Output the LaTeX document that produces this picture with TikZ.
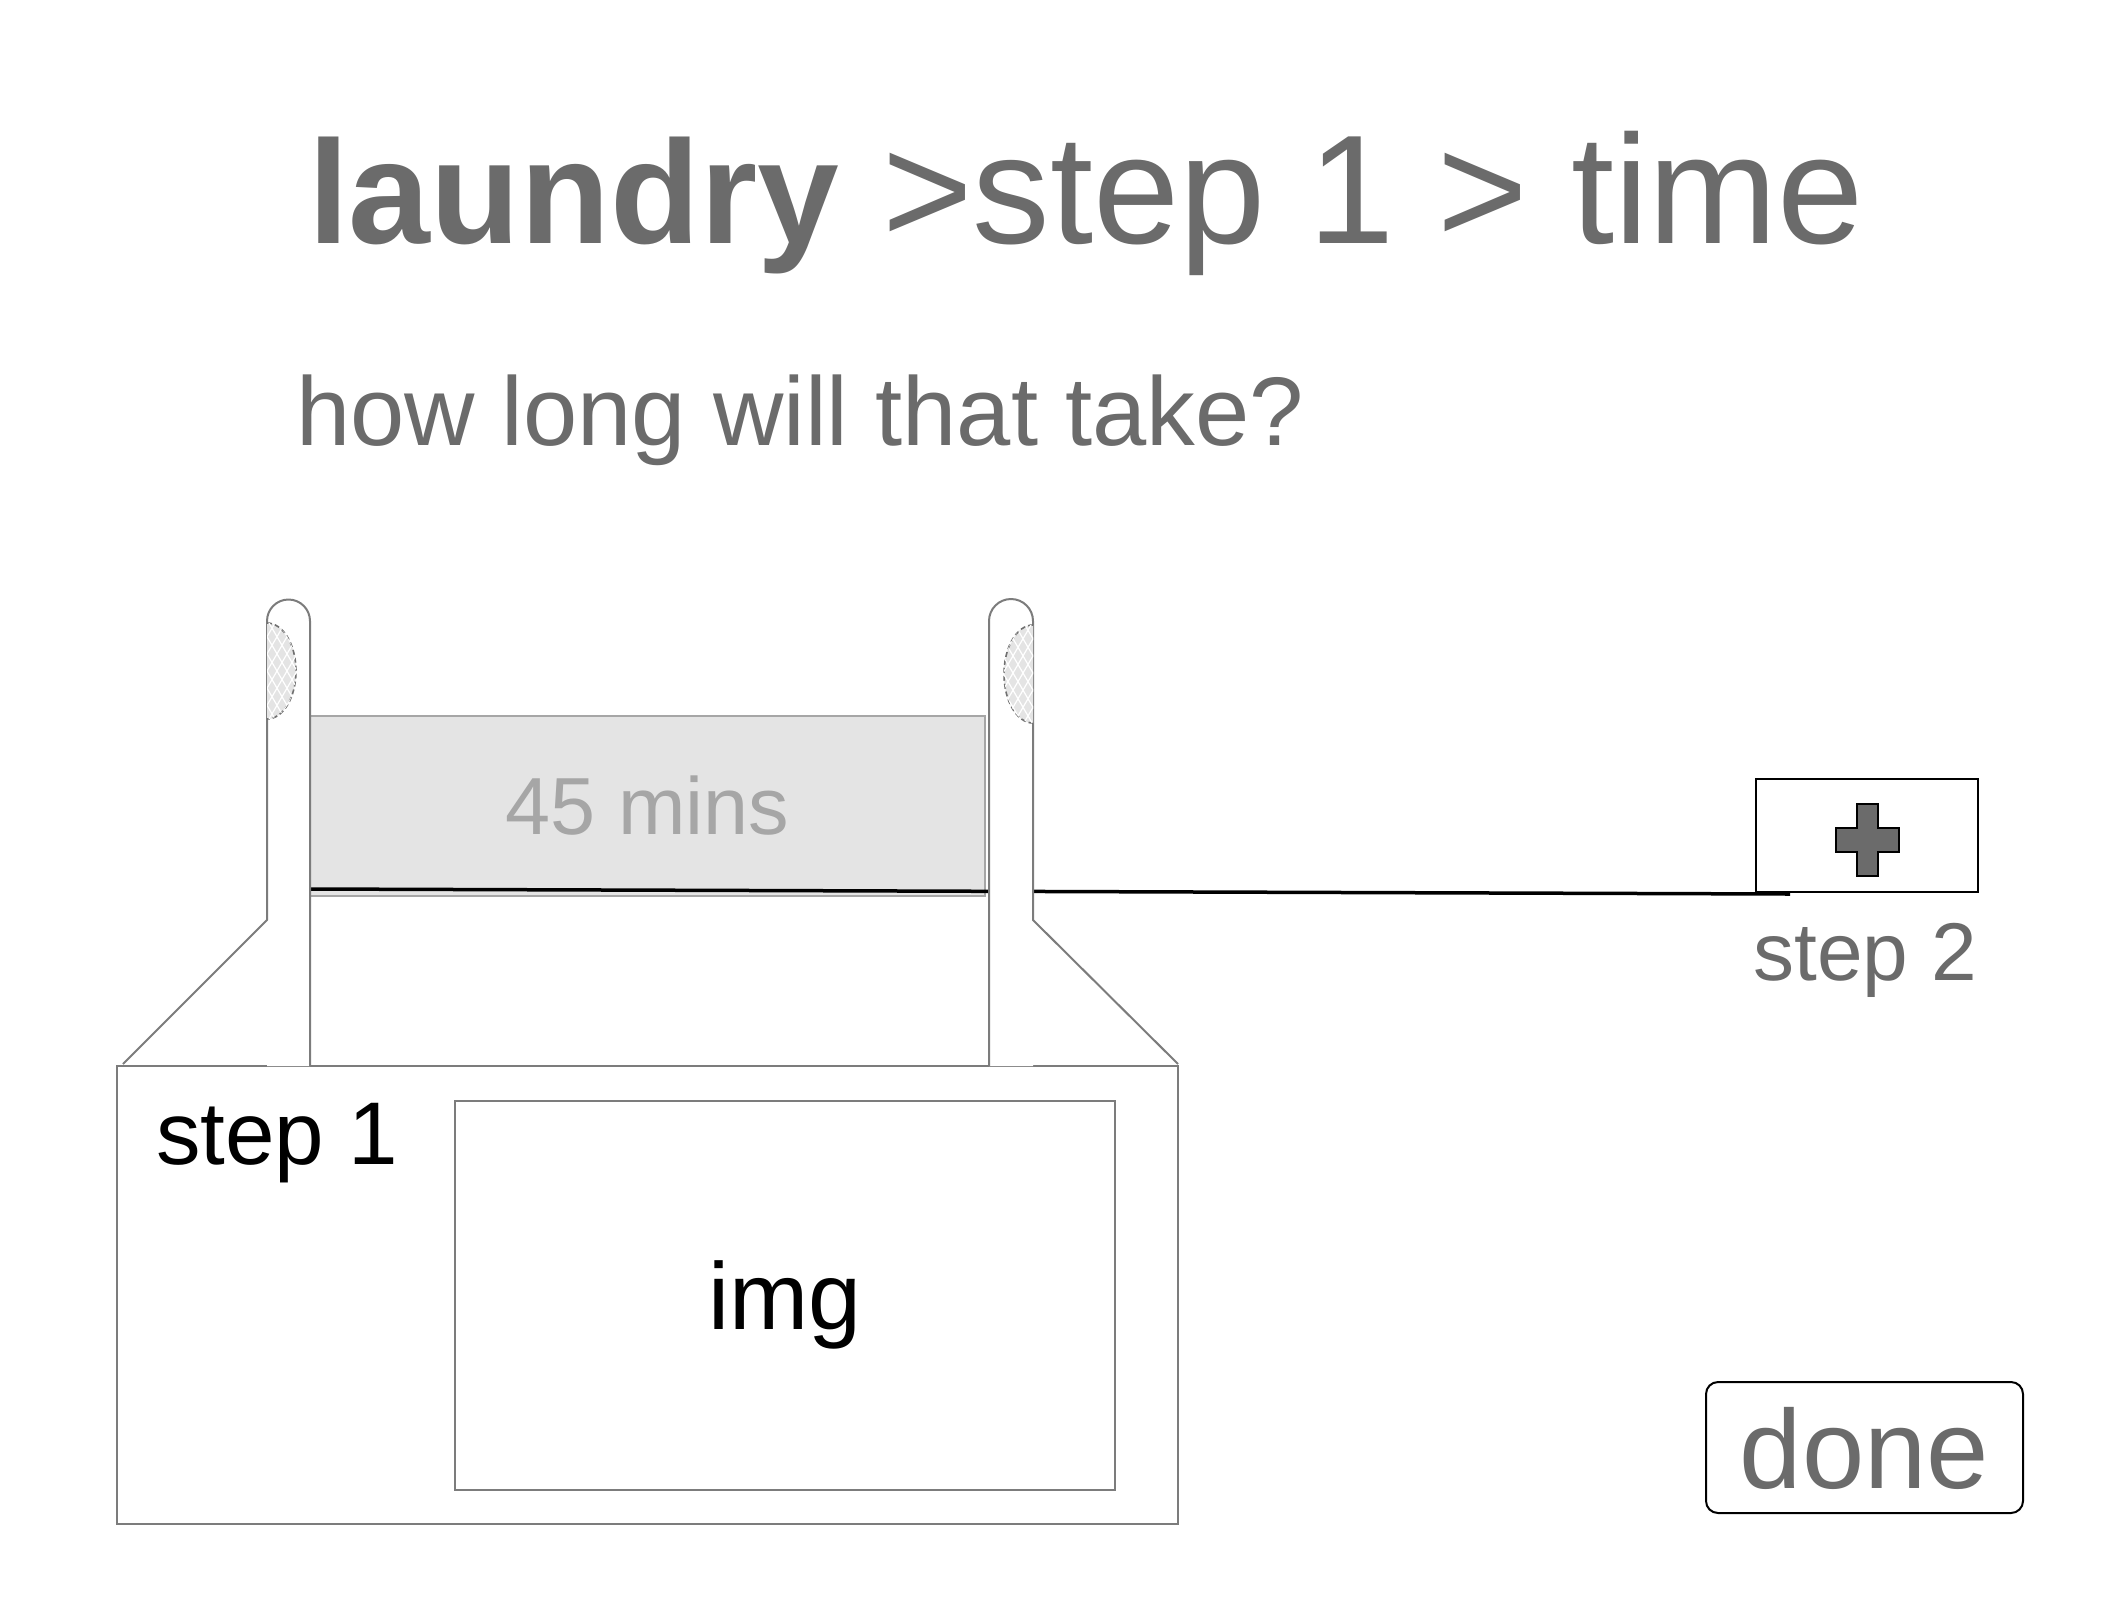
\documentclass[tikz,border=0pt]{standalone}
\usepackage{fontspec}
\setmainfont{Liberation Sans}
\usetikzlibrary{positioning, calc}
\definecolor{inkgray}{HTML}{6B6B6B}
\definecolor{fadegray}{HTML}{A6A6A6}
\definecolor{barfill}{HTML}{E4E4E4}
\definecolor{edgegray}{HTML}{7C7C7C}
\newcommand{\FontAt}[1]{\fontsize{#1}{#1}\selectfont}
\tikzset{
    plussign/.pic = {
    \draw[line width=1.5pt, fill=inkgray]
      (-10.5,-36) -- (10.5,-36) -- (10.5,-12) -- (31.5,-12) -- (31.5,12)
      -- (10.5,12) -- (10.5,36) -- (-10.5,36) -- (-10.5,12) -- (-31.5,12)
      -- (-31.5,-12) -- (-10.5,-12) -- cycle;
    },
    plain/.style={inner sep=0pt, outer sep=0pt},
    outline/.style={draw=edgegray, line width=2pt},
    hatchcap/.style={draw=edgegray!90!black, line width=1.6pt, dash pattern=on 5pt off 3pt, fill=barfill},
}

\begin{document}
\begin{tikzpicture}[x=1pt, y=-1pt]
    \tikzset{
      every node/.append style={plain},
      timeline/.style={line width=3.5pt, black},
      heading/.style={anchor=base west, text=inkgray},
    }
    \useasboundingbox (0,0) rectangle (2122,1599);

    \node[heading] (title) at (308,243) {{\FontAt{147}\bfseries laundry}{\FontAt{155} >step 1 > time}};
    \node[heading, font=\FontAt{97.5}] (question) at (296,445) {how long will that take?};

    % time bar with the line to the next step
    \node[draw=fadegray, line width=1.5pt, fill=barfill, text=fadegray, font=\FontAt{81},
      minimum width=675pt, minimum height=180pt] (bar) at (647.5,806) {45 mins};
    \coordinate (lineend) at (1790,894);
    \draw[timeline] ([yshift=7pt]bar.south west) -- (lineend);

    \node[draw, line width=1.5pt, minimum width=222pt, minimum height=113pt] (plusbox) at (1867,835.5) {};
    \path (plusbox.center) ++(0.5,4.5) pic {plussign};
    \node[anchor=base, text=inkgray, font=\FontAt{82}] (steptwo) at ([xshift=-2pt, yshift=-88pt]plusbox.south) {step 2};

    % basket
    \node[outline, minimum width=1061pt, minimum height=458pt] (basket) at (647.5,1295) {};
    \node[anchor=base west, font=\FontAt{89}] (stepone) at (156,1164) {step 1};
    \node[draw=edgegray, line width=1.5pt, text depth=0pt, font=\FontAt{95},
      minimum width=660pt, minimum height=389pt] (imgbox) at (785,1295.5) {img};

    % left post
    \fill[white] (267,1066) -- (267,621) arc[start angle=180, end angle=0, radius=21.5pt] -- (310,1066) -- cycle;
    \draw[outline, line join=round] (123,1064) -- (267,920) -- (267,621)
      arc[start angle=180, end angle=0, radius=21.5pt] -- (310,1066);
    \draw[hatchcap] (267,623) arc[start angle=90, end angle=-90, x radius=29pt, y radius=48pt];
    \begin{scope}
      \clip (267,623) arc[start angle=90, end angle=-90, x radius=29pt, y radius=48pt] -- cycle;
      \foreach \k in {-6,...,9} {
        \draw[white, line width=1.2pt] (267+\k*10-35,611) -- (267+\k*10+35,731);
        \draw[white, line width=1.2pt] (267+\k*10+35,611) -- (267+\k*10-35,731);
      }
    \end{scope}

    % right post
    \fill[white] (989,1066) -- (989,621) arc[start angle=180, end angle=0, radius=22pt] -- (1033,1066) -- cycle;
    \draw[outline, line join=round] (989,1066) -- (989,621)
      arc[start angle=180, end angle=0, radius=22pt] -- (1033,920) -- (1178,1064);
    \draw[hatchcap] (1033,625) arc[start angle=90, end angle=270, x radius=29pt, y radius=49pt];
    \begin{scope}
      \clip (1033,625) arc[start angle=90, end angle=270, x radius=29pt, y radius=49pt] -- cycle;
      \foreach \k in {-9,...,6} {
        \draw[white, line width=1.2pt] (1033+\k*10-35,613) -- (1033+\k*10+35,733);
        \draw[white, line width=1.2pt] (1033+\k*10+35,613) -- (1033+\k*10-35,733);
      }
    \end{scope}

    \node[draw, line width=2pt, rounded corners=12pt, text=inkgray, font=\FontAt{112}, text depth=0pt,
      minimum width=317pt, minimum height=131pt] (done) at (1864.5,1447.5) {done};
\end{tikzpicture}
\end{document}
